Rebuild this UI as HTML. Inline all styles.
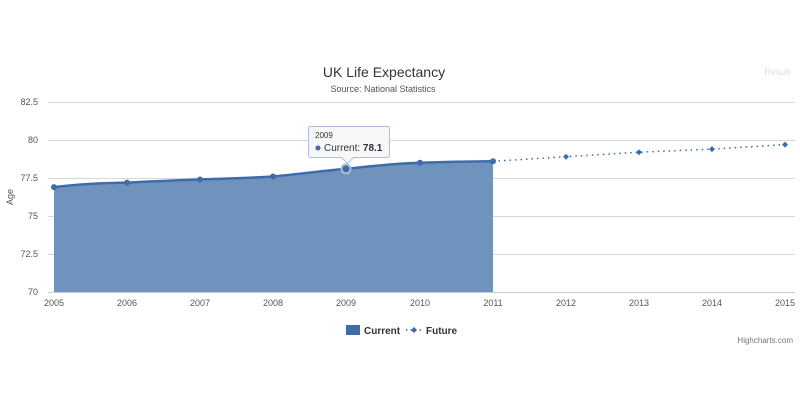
<!DOCTYPE html>
<html><head><style>
body{margin:0;background:#fff;}
svg{display:block;font-family:"Liberation Sans","DejaVu Sans",sans-serif;}
</style></head><body>
<svg width="800" height="400" viewBox="0 0 800 400">
<rect width="800" height="400" fill="#fff"/>
<text x="384" y="77" text-anchor="middle" font-size="14" fill="#333">UK Life Expectancy</text>
<text x="383" y="92" text-anchor="middle" font-size="9" fill="#555">Source: National Statistics</text>
<text x="777" y="75" text-anchor="middle" font-size="9" fill="#ddd">Result</text>
<g stroke="#d8d8d8" stroke-width="1">
<line x1="48" x2="795" y1="102.5" y2="102.5"/>
<line x1="48" x2="795" y1="140.5" y2="140.5"/>
<line x1="48" x2="795" y1="178.5" y2="178.5"/>
<line x1="48" x2="795" y1="216.5" y2="216.5"/>
<line x1="48" x2="795" y1="254.5" y2="254.5"/>
<line x1="48" x2="795" y1="292.5" y2="292.5" stroke="#c0d0e0"/>
</g>
<g font-size="9" fill="#555" text-anchor="end">
<text x="38" y="105">82.5</text><text x="38" y="143">80</text><text x="38" y="181">77.5</text>
<text x="38" y="219">75</text><text x="38" y="257">72.5</text><text x="38" y="295">70</text>
</g>
<text transform="translate(13,197) rotate(-90)" text-anchor="middle" font-size="9" fill="#555">Age</text>
<g font-size="9" fill="#555" text-anchor="middle">
<text x="54" y="306">2005</text><text x="127" y="306">2006</text><text x="200" y="306">2007</text>
<text x="273" y="306">2008</text><text x="346" y="306">2009</text><text x="420" y="306">2010</text>
<text x="493" y="306">2011</text><text x="566" y="306">2012</text><text x="639" y="306">2013</text>
<text x="712" y="306">2014</text><text x="785" y="306">2015</text>
</g>
<path d="M54,187.1 C80,184 100,183 127,182.6 C160,181 180,180 200,179.5 C230,178.5 250,178 273,176.5 C300,174 320,171 346,168.9 C380,165 400,163.5 420,162.8 C450,161.8 470,161.5 493,161.3 L493,292 L54,292 Z" fill="#6f93bd"/>
<path d="M54,187.1 C80,184 100,183 127,182.6 C160,181 180,180 200,179.5 C230,178.5 250,178 273,176.5 C300,174 320,171 346,168.9 C380,165 400,163.5 420,162.8 C450,161.8 470,161.5 493,161.3" fill="none" stroke="#3e6ba9" stroke-width="2.5"/>
<polyline points="493,161.3 566,156.7 639,152.2 712,149.1 785,144.6" fill="none" stroke="#3e6ba9" stroke-width="1.5" stroke-dasharray="1.5,4"/>
<g fill="#3e6ba9">
<circle cx="54" cy="187.1" r="3"/><circle cx="127" cy="182.6" r="3"/><circle cx="200" cy="179.5" r="3"/>
<circle cx="273" cy="176.5" r="3"/><circle cx="420" cy="162.8" r="3"/><circle cx="493" cy="161.3" r="3"/>
<circle cx="346" cy="168.9" r="4.5" stroke="#a9bfdc" stroke-width="2"/>
<path d="M566,153.7 l3,3 l-3,3 l-3,-3z M639,149.2 l3,3 l-3,3 l-3,-3z M712,146.1 l3,3 l-3,3 l-3,-3z M785,141.6 l3,3 l-3,3 l-3,-3z"/>
</g>
<path d="M310.5,126.5 h77 a2,2 0 0 1 2,2 v27 a2,2 0 0 1 -2,2 h-34 l-6,6 l-6,-6 h-31 a2,2 0 0 1 -2,-2 v-27 a2,2 0 0 1 2,-2z" fill="#f7f7f7" fill-opacity="0.95" stroke="#a9bfdc"/>
<text x="315" y="138" font-size="8" fill="#333">2009</text>
<circle cx="318" cy="148" r="2.5" fill="#3e6ba9"/>
<text x="324" y="151" font-size="10" fill="#333">Current: <tspan font-weight="bold">78.1</tspan></text>
<rect x="346" y="325" width="14" height="10" fill="#3e6ba9"/>
<text x="364" y="334" font-size="10" fill="#333" font-weight="bold">Current</text>
<line x1="406" x2="422" y1="330" y2="330" stroke="#3e6ba9" stroke-width="1.5" stroke-dasharray="1.5,3"/>
<path d="M414,327 l3,3 l-3,3 l-3,-3z" fill="#3e6ba9"/>
<text x="426" y="334" font-size="10" fill="#333" font-weight="bold">Future</text>
<text x="793" y="343" text-anchor="end" font-size="8" fill="#777">Highcharts.com</text>
</svg>
</body></html>
